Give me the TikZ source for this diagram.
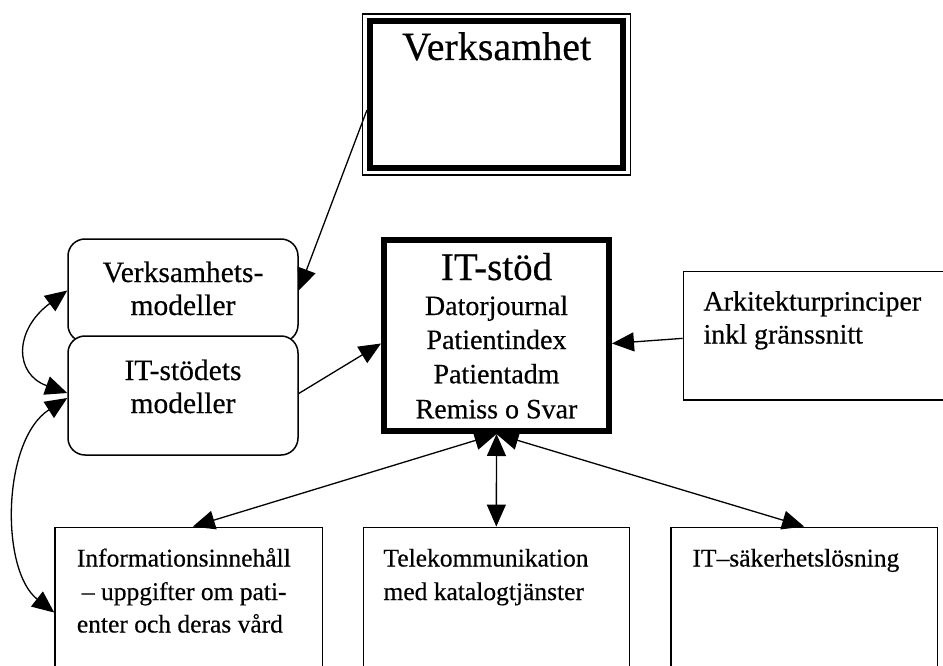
\documentclass[tikz,border=0pt]{standalone}
\usepackage{fontspec}
\setmainfont{Liberation Serif}[FakeBold=0.4]
\usetikzlibrary{arrows.meta}
\begin{document}
\begin{tikzpicture}[x=1pt,y=-1pt,
  box/.style={draw, line width=1.5pt, inner sep=0pt, fill=white},
  heavybox/.style={draw, line width=6pt, inner sep=0pt},
  roundbox/.style={box, rounded corners=17pt},
  conn/.style={line width=1.3pt},
  single/.style={conn, -{Triangle[length=22pt,width=19pt]}},
  both/.style={conn, {Triangle[length=22pt,width=19pt]}-{Triangle[length=22pt,width=19pt]}},
  lefttext/.style={inner sep=0pt, anchor=base west},
  midtext/.style={inner sep=0pt, anchor=base},
  titlefont/.style={font=\fontsize{40}{45}\selectfont},
  headfont/.style={font=\fontsize{39}{44}\selectfont},
  modelfont/.style={font=\fontsize{29.5}{33}\selectfont},
  bodyfont/.style={font=\fontsize{28}{32}\selectfont},
  smallfont/.style={font=\fontsize{25.5}{29}\selectfont},
]
\clip (0,0) rectangle (943,666);
\fill[white] (0,0) rectangle (943,666);

% Verksamhet: thin outer frame with a heavy inner frame
\node[draw, line width=1.3pt, inner sep=0pt, minimum width=268pt, minimum height=161pt] (verk) at (496.7,94.5) {};
\node[heavybox, minimum width=253.5pt, minimum height=146.5pt] (verkin) at (verk.center) {};
\node[midtext, titlefont] (verktitle) at (496.7,60) {Verksamhet};

% model boxes
\node[roundbox, minimum width=230pt, minimum height=103pt] (vmod) at (183,290.5) {};
\node[roundbox, minimum width=230pt, minimum height=119pt] (itmod) at (183,395.5) {};
\node[midtext, modelfont] (vmod1) at (183,282) {Verksamhets-};
\node[midtext, modelfont] (vmod2) at (183,315) {modeller};
\node[midtext, modelfont] (itmod1) at (183,380) {IT-stödets};
\node[midtext, modelfont] (itmod2) at (183,413) {modeller};

% IT-stöd
\node[heavybox, minimum width=225pt, minimum height=191pt] (itstod) at (496.5,335.5) {};
\node[midtext, headfont] (ithead) at (496.5,280) {IT-stöd};
\node[midtext, bodyfont] (itl1) at (496.5,315) {Datorjournal};
\node[midtext, bodyfont] (itl2) at (496.5,349) {Patientindex};
\node[midtext, bodyfont] (itl3) at (496.5,383.3) {Patientadm};
\node[midtext, bodyfont] (itl4) at (496.5,418.3) {Remiss o Svar};

% Arkitekturprinciper
\node[box, minimum width=316.7pt, minimum height=128.3pt] (ark) at (841.7,335.85) {};
\node[lefttext, bodyfont] (ark1) at (703.3,310.5) {Arkitekturprinciper};
\node[lefttext, bodyfont] (ark2) at (703.3,343.5) {inkl gränssnitt};

% lower boxes
\node[box, minimum width=267.7pt, minimum height=192.7pt] (info) at (188.85,623.65) {};
\node[box, minimum width=266pt, minimum height=192.7pt] (tele) at (496.3,623.65) {};
\node[box, minimum width=266.3pt, minimum height=192.7pt] (sak) at (804.15,623.65) {};
\node[lefttext, smallfont] (info1) at (76.7,566.5) {Informationsinnehåll};
\node[lefttext, smallfont] (info2) at (81.7,600) {– uppgifter om pati-};
\node[lefttext, smallfont] (info3) at (76.7,632.5) {enter och deras vård};
\node[lefttext, smallfont] (tele1) at (383.3,566.5) {Telekommunikation};
\node[lefttext, smallfont] (tele2) at (383.3,600) {med katalogtjänster};
\node[lefttext, smallfont] (sak1) at (692.3,566.5) {IT–säkerhetslösning};

% connectors
\draw[single] ([yshift=-15.5pt]verkin.west) -- (vmod.east);
\draw[single] ([yshift=2pt]itmod.east) -- ([yshift=-8pt]itstod.west);
\draw[single] ([yshift=-2.5pt]ark.west) -- ([yshift=-8pt]itstod.east);
\draw[both] (itstod.south) -- ([xshift=4pt]info.north);
\draw[both] (itstod.south) -- (tele.north);
\draw[both] (itstod.south) -- (sak.north);
\draw[both] (vmod.west) .. controls (14,330) and (14,374) .. ([yshift=2.5pt]itmod.west);
\draw[both] ([yshift=-2.5pt]itmod.west) .. controls (2,440) and (0,570) .. ([yshift=-86pt]info.north west);
\end{tikzpicture}
\end{document}
